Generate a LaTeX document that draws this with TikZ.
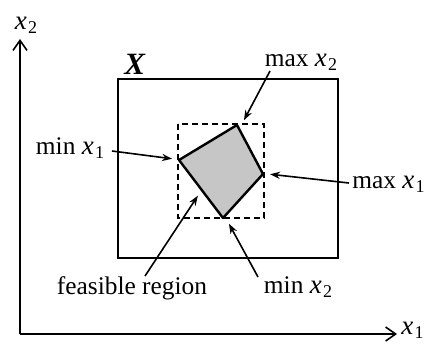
\documentclass[tikz,border=0pt]{standalone}
\usepackage{fontspec}
\setmainfont{Liberation Serif}
\usetikzlibrary{arrows.meta}
\newcommand{\vx}[1]{{\fontsize{13.5}{15}\selectfont\textit{x}}\kern0.05em\raisebox{-0.35ex}{\fontsize{9}{10}\selectfont #1}}
\tikzset{
  lbl/.style={inner sep=0pt, font=\fontsize{12.7}{15}\selectfont},
  ptr/.style={line width=0.8pt, -{Stealth[length=5pt,width=3.6pt]}, shorten >=1pt},
  axis/.style={line width=0.8pt, -{Straight Barb[length=5pt,width=7pt]}}
}
\begin{document}
\begin{tikzpicture}[x=0.5pt,y=-0.5pt]
\useasboundingbox (0,0) rectangle (426,345);
% axes
\coordinate (O) at (20,334);
\coordinate (ytip) at (20,39);
\coordinate (xtip) at (397,334);
\draw[axis] (O) -- (ytip);
\draw[axis] (O) -- (xtip);
\node[lbl, anchor=center] (lx2) at (26,25) {\vx{2}};
\node[lbl, anchor=west] (lx1) at (401,330) {\vx{1}};
% outer set X
\draw[line width=0.7pt] (118,79) rectangle (338,258);
\node[lbl, anchor=center] (lX) at (135,64) {\fontsize{15.5}{17}\selectfont\textbf{\textit{X}}};
% dashed box
\draw[line width=0.7pt, dash pattern=on 3pt off 2pt] (178,124) rectangle (264,218);
% feasible polygon
\coordinate (pl) at (179,160);
\coordinate (pt) at (237,125);
\coordinate (pr) at (263,174);
\coordinate (pb) at (223,218);
\draw[line width=1.2pt, fill=gray!45, line join=round] (pl) -- (pt) -- (pr) -- (pb) -- cycle;
% labels
\node[lbl] (maxx2) at (301,62) {max \vx{2}};
\node[lbl] (minx1) at (70,148) {min \vx{1}};
\node[lbl, anchor=west] (maxx1) at (352,184) {max \vx{1}};
\node[lbl] (minx2) at (298,287) {min \vx{2}};
\node[lbl] (feas) at (132,288) {feasible region};
% pointers
\coordinate (a1) at (270,71);
\coordinate (a1e) at (243,122);
\draw[ptr] (a1) -- (a1e);
\coordinate (b1) at (112,151);
\coordinate (b1e) at (174,159);
\draw[ptr] (b1) -- (b1e);
\coordinate (c1) at (349,183);
\coordinate (c1e) at (268,174);
\draw[ptr] (c1) -- (c1e);
\coordinate (d1) at (258,277);
\coordinate (d1e) at (228,222);
\draw[ptr] (d1) -- (d1e);
\coordinate (e1) at (145,276);
\coordinate (e1e) at (199,194);
\draw[ptr] (e1) -- (e1e);
\end{tikzpicture}
\end{document}
